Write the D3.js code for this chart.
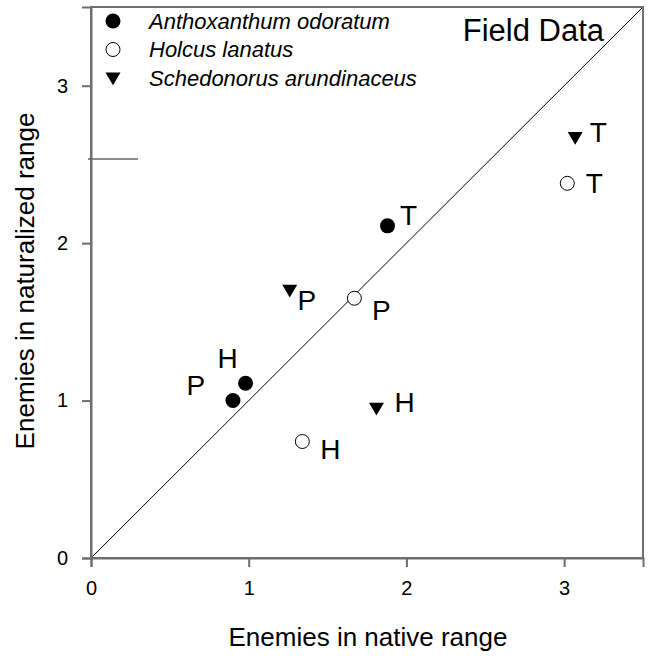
<!DOCTYPE html>
<html>
<head>
<meta charset="utf-8">
<script src="https://cdn.jsdelivr.net/npm/d3@7"></script>
<style>
  html, body { margin: 0; padding: 0; background: #fff; }
  svg { display: block; font-family: "Liberation Sans", Arial, sans-serif; }
</style>
</head>
<body>
<svg id="chart" width="649" height="656"></svg>
<script>
// Enemy counts per species and site (H, P, T) in native vs naturalized ranges
const species = ["Anthoxanthum odoratum", "Holcus lanatus", "Schedonorus arundinaceus"];
const symbols = ["filled", "open", "triangle"];
const sites = ["H", "P", "T"];
const nativeEnemies = [
  [0.98, 0.90, 1.88],   // Anthoxanthum odoratum
  [1.34, 1.67, 3.02],   // Holcus lanatus
  [1.81, 1.26, 3.07]    // Schedonorus arundinaceus
];
const naturalizedEnemies = [
  [1.11, 1.00, 2.11],
  [0.74, 1.65, 2.38],
  [0.95, 1.70, 2.67]
];
// Label offsets (data units) for each site letter
const labelDx = [
  [-0.114, -0.235, 0.133],
  [0.178, 0.171, 0.171],
  [0.178, 0.108, 0.146]
];
const labelDy = [
  [0.159, 0.095, 0.063],
  [-0.05, -0.076, 0.0],
  [0.038, -0.063, 0.032]
];
const xTicks = [0, 1, 2, 3];
const yTicks = [0, 1, 2, 3];
const domainMax = 3.5;

const svg = d3.select("#chart");
const m = { left: 91, top: 7, right: 6, bottom: 98 };
const W = 649 - m.left - m.right, H = 656 - m.top - m.bottom;

const x = d3.scaleLinear().domain([0, domainMax]).range([0, W]);
const y = d3.scaleLinear().domain([0, domainMax]).range([H, 0]);

const g = svg.append("g").attr("transform", `translate(${m.left},${m.top})`);
const axisColor = "#6e6e6e";

// 1:1 reference line
g.append("line")
  .attr("x1", x(0)).attr("y1", y(0))
  .attr("x2", x(domainMax)).attr("y2", y(domainMax))
  .attr("stroke", "#000").attr("stroke-width", 1);

// frame
g.append("rect").attr("x", 0).attr("y", 0).attr("width", W).attr("height", H)
  .attr("fill", "none").attr("stroke", axisColor).attr("stroke-width", 2);

const xAxis = g.append("g").attr("transform", `translate(0,${H})`)
  .call(d3.axisBottom(x).tickValues(xTicks).tickSize(9).tickPadding(14).tickFormat(d3.format("d")));
const yAxis = g.append("g")
  .call(d3.axisLeft(y).tickValues(yTicks).tickSize(9).tickPadding(14).tickFormat(d3.format("d")));
[xAxis, yAxis].forEach(a => {
  a.select(".domain").attr("stroke", axisColor).attr("stroke-width", 2);
  a.selectAll(".tick line").attr("stroke", axisColor).attr("stroke-width", 2);
  a.selectAll(".tick text").attr("fill", "#000").style("font-size", "20px")
    .style("font-family", "Liberation Sans, Arial, sans-serif");
});

// short mark on the left axis
g.append("line").attr("x1", -3).attr("x2", 47)
  .attr("y1", y(2.535)).attr("y2", y(2.535))
  .attr("stroke", "#666").attr("stroke-width", 1.5);

// marker drawing
function marker(sel, type, cx, cy) {
  if (type === "filled") {
    sel.append("circle").attr("cx", cx).attr("cy", cy).attr("r", 7.5).attr("fill", "#000");
  } else if (type === "open") {
    sel.append("circle").attr("cx", cx).attr("cy", cy).attr("r", 7)
      .attr("fill", "#fff").attr("stroke", "#000").attr("stroke-width", 1);
  } else {
    const s = 7.5;
    sel.append("path")
      .attr("d", `M${cx - s},${cy - s * 0.75}L${cx + s},${cy - s * 0.75}L${cx},${cy + s * 0.95}Z`)
      .attr("fill", "#000");
  }
}

// points and site labels
species.forEach((sp, i) => {
  sites.forEach((site, j) => {
    const vx = nativeEnemies[i][j], vy = naturalizedEnemies[i][j];
    marker(g, symbols[i], x(vx), y(vy));
    g.append("text")
      .attr("x", x(vx + labelDx[i][j])).attr("y", y(vy + labelDy[i][j]))
      .attr("text-anchor", "middle").attr("dominant-baseline", "central")
      .style("font-size", "28px").text(site);
  });
});

// legend
const legend = g.append("g");
species.forEach((sp, i) => {
  const ly = 14 + i * 28.5;
  marker(legend, symbols[i], 22, ly);
  legend.append("text").attr("x", 58).attr("y", ly)
    .attr("dominant-baseline", "central")
    .style("font-size", "22px").style("font-style", "italic").text(sp);
});

// panel title
g.append("text").attr("x", 513).attr("y", 34)
  .attr("text-anchor", "end")
  .style("font-size", "31px").text("Field Data");

// axis titles
svg.append("text").attr("x", m.left + W / 2 + 1).attr("y", 637)
  .attr("text-anchor", "middle").attr("dominant-baseline", "central")
  .style("font-size", "26px").text("Enemies in native range");
svg.append("text")
  .attr("transform", `translate(25,281) rotate(-90)`)
  .attr("text-anchor", "middle").attr("dominant-baseline", "central")
  .style("font-size", "26px").text("Enemies in naturalized range");
</script>
</body>
</html>
